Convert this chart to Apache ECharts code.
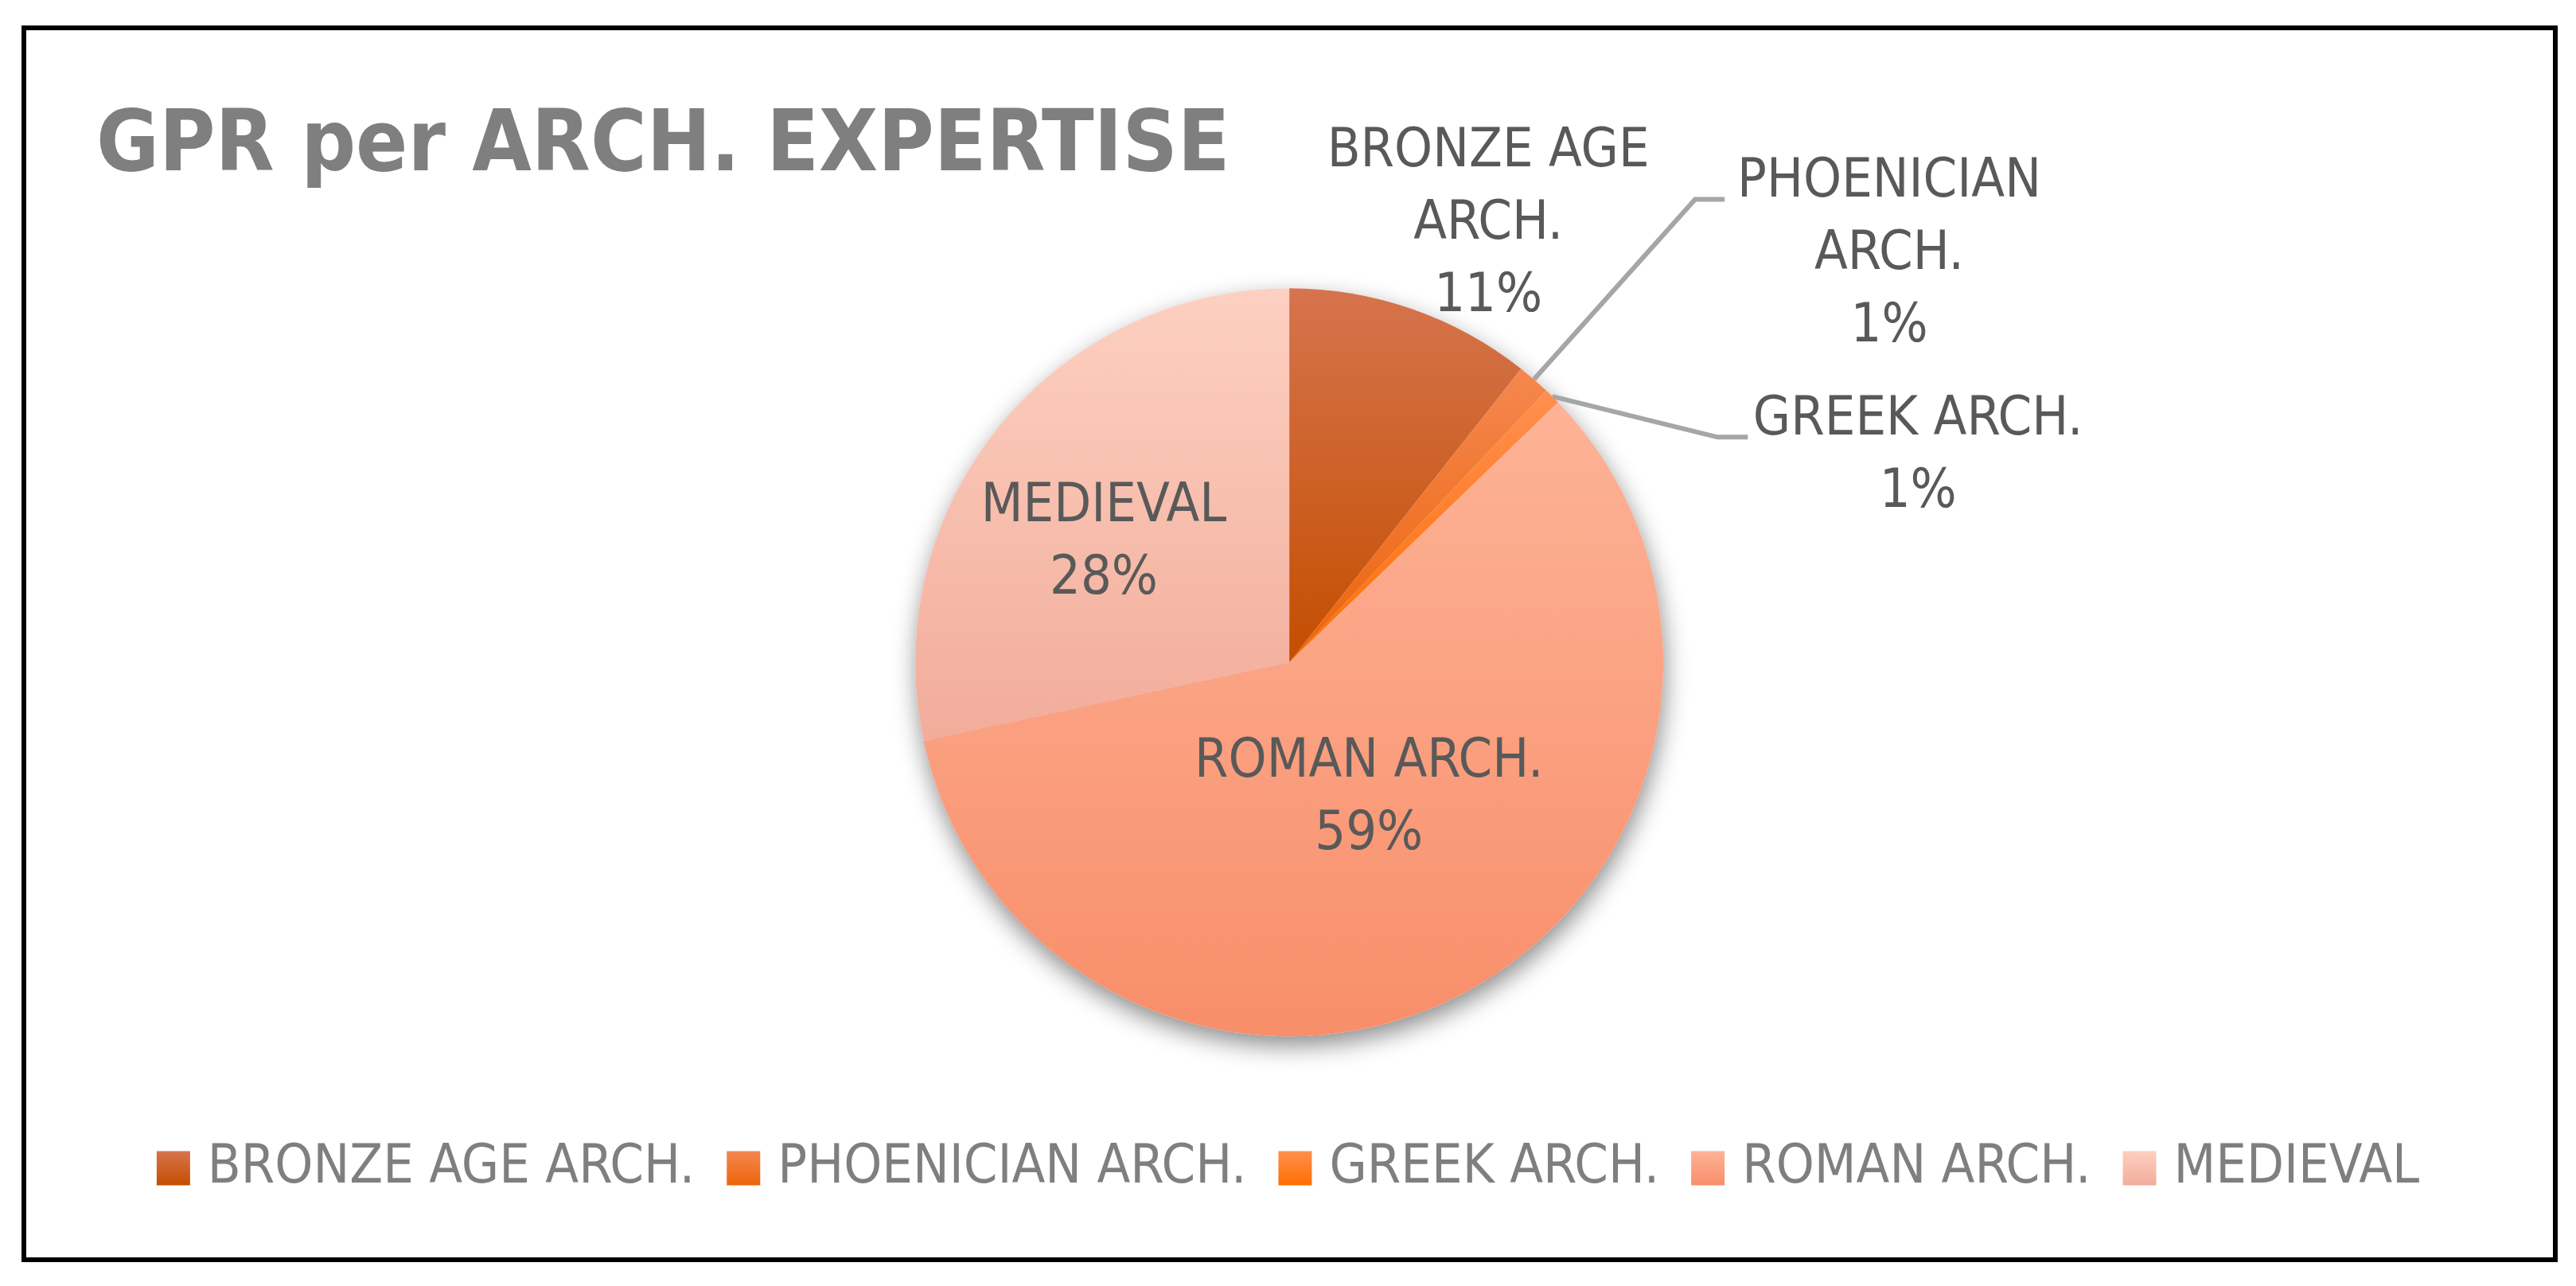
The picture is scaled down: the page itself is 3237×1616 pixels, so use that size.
<!DOCTYPE html>
<html>
<head>
<meta charset="utf-8">
<script src="https://cdn.jsdelivr.net/npm/echarts@6/dist/echarts.min.js"></script>
<style>
html,body{margin:0;padding:0;background:#fff;}
#chart{width:3237px;height:1616px;}
</style>
</head>
<body>
<div id="chart"></div>
<script>
// ---- data ----
const titleText = 'GPR per ARCH. EXPERTISE';
const categories = ['BRONZE AGE ARCH.', 'PHOENICIAN ARCH.', 'GREEK ARCH.', 'ROMAN ARCH.', 'MEDIEVAL'];
const labelNames = ['BRONZE AGE\nARCH.', 'PHOENICIAN\nARCH.', 'GREEK ARCH.', 'ROMAN ARCH.', 'MEDIEVAL'];
const counts = [15, 2, 1, 83, 40];

// ---- styles ----
const FONT = "'Liberation Sans Narrow', 'DejaVu Sans Condensed', 'Liberation Sans', sans-serif";
const gradients = [
  ['#D6744E', '#C44E00'],
  ['#F5874F', '#EC6408'],
  ['#FF8F50', '#FF6F00'],
  ['#FDB397', '#F88E6A'],
  ['#FDD0C1', '#F2AC9A']
];
// label anchor offsets in units of the pie radius, from the pie centre
const LABEL_POS = [[0.532, -1.170], [1.604, -1.090], [1.681, -0.550], [0.213, 0.365], [-0.496, -0.318]];
// leader line bends (units of radius) for the two thin slices
const LINE_BENDS = {1: [[1.085, -1.238], [1.164, -1.238]], 2: [[1.145, -0.602], [1.226, -0.602]]};
const CENTER = ['50.05%', '51.5%'];
const RADIUS = 470;
const LEADER_STYLE = {color: '#A6A6A6', width: 6, type: 'solid'};

const chart = echarts.init(document.getElementById('chart'), null, {renderer: 'canvas'});

function grad(c) {
  return {type: 'linear', x: 0, y: 0, x2: 0, y2: 1, colorStops: [{offset: 0, color: c[0]}, {offset: 1, color: c[1]}]};
}

const mainData = categories.map((n, i) => ({
  name: n,
  value: counts[i],
  itemStyle: {color: grad(gradients[i])},
  labelLine: {show: i === 1 || i === 2, smooth: false, lineStyle: LEADER_STYLE}
}));
const shadowData = categories.map((n, i) => ({name: n, value: counts[i]}));

function pieGeom() {
  const w = chart.getWidth(), h = chart.getHeight();
  return {cx: parseFloat(CENTER[0]) / 100 * w, cy: parseFloat(CENTER[1]) / 100 * h, R: RADIUS};
}

const option = {
  animation: false,
  backgroundColor: '#ffffff',
  title: {
    text: titleText,
    left: 116,
    top: 128,
    textStyle: {fontFamily: FONT, fontWeight: 'bold', fontSize: 107, color: '#7F7F7F'}
  },
  legend: {
    data: categories,
    left: 'center',
    top: 1429,
    icon: 'rect',
    itemWidth: 42,
    itemHeight: 43,
    itemGap: 40,
    textStyle: {fontFamily: FONT, fontSize: 68, color: '#7F7F7F', padding: [0, 0, 0, 17]}
  },
  graphic: [{
    type: 'rect',
    shape: {x: 30, y: 35, width: 3181, height: 1548},
    style: {fill: null, stroke: '#000', lineWidth: 6},
    z: 100
  }],
  series: [
    {
      type: 'pie',
      name: 'main',
      center: CENTER,
      radius: RADIUS,
      startAngle: 90,
      clockwise: true,
      avoidLabelOverlap: false,
      z: 3,
      data: mainData,
      label: {
        show: true,
        position: 'outside',
        fontFamily: FONT,
        fontSize: 68,
        lineHeight: 91,
        color: '#595959',
        align: 'center',
        formatter: p => labelNames[p.dataIndex] + '\n' + Math.round(p.percent) + '%'
      },
      labelLine: {
        show: true,
        smooth: false,
        lineStyle: LEADER_STYLE
      },
      labelLayout: function (p) {
        const g = pieGeom();
        const o = LABEL_POS[p.dataIndex];
        const res = {x: g.cx + o[0] * g.R, y: g.cy + o[1] * g.R, align: 'center', verticalAlign: 'middle'};
        const b = LINE_BENDS[p.dataIndex];
        if (b && p.labelLinePoints) {
          const start = p.labelLinePoints[0];
          res.labelLinePoints = [start].concat(b.map(q => [g.cx + q[0] * g.R, g.cy + q[1] * g.R]));
        }
        return res;
      },
      emphasis: {disabled: true}
    },
    {
      type: 'pie',
      name: 'shadow',
      center: CENTER,
      radius: RADIUS,
      startAngle: 90,
      silent: true,
      z: 1,
      data: shadowData,
      label: {show: false},
      labelLine: {show: false},
      itemStyle: {color: '#ffffff', shadowBlur: 30, shadowOffsetY: 12, shadowOffsetX: 2, shadowColor: 'rgba(0,0,0,0.45)'},
      emphasis: {disabled: true},
      legendHoverLink: false
    }
  ]
};
chart.setOption(option);
</script>
</body>
</html>
